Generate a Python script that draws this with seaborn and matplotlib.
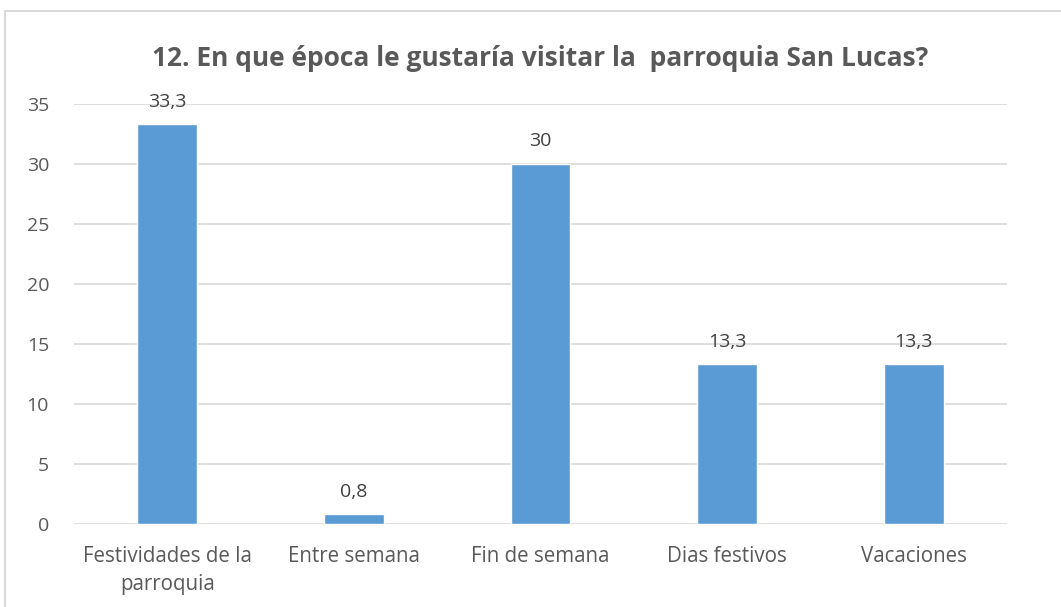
import matplotlib
matplotlib.use("Agg")
import matplotlib.pyplot as plt
import seaborn as sns
import pandas as pd
from matplotlib.patches import Rectangle

categories = ["Festividades de la\nparroquia", "Entre semana", "Fin de semana",
              "Dias festivos", "Vacaciones"]
values = [33.3, 0.8, 30, 13.3, 13.3]
value_labels = ["33,3", "0,8", "30", "13,3", "13,3"]
y_ticks = [0, 5, 10, 15, 20, 25, 30, 35]

title = "12. En que época le gustaría visitar la  parroquia San Lucas?"

sns.set_theme(style="white")
plt.rcParams["font.family"] = ["Open Sans", "DejaVu Sans"]

df = pd.DataFrame({"categoria": categories, "valor": values})

fig = plt.figure(figsize=(10.61, 6.07), dpi=100)
ax = fig.add_axes([74 / 1061, 83 / 607, (1007 - 74) / 1061, (524 - 104) / 607])

sns.barplot(data=df, x="categoria", y="valor", color="#5B9BD5", width=0.32,
            saturation=1, ax=ax, zorder=3)

ax.set_ylim(0, 35)
ax.set_yticks(y_ticks)
ax.set_xlim(-0.5, len(categories) - 0.5)
ax.grid(axis="y", color="#D9D9D9", linewidth=1.2, zorder=0)
ax.grid(axis="x", visible=False)
for s in ax.spines.values():
    s.set_visible(False)
ax.set_xlabel("")
ax.set_ylabel("")
ax.tick_params(axis="y", length=0, pad=18, labelsize=14, labelcolor="#595959")
ax.tick_params(axis="x", length=0, pad=16, labelsize=14.8, labelcolor="#595959")
for lbl in ax.get_xticklabels():
    lbl.set_linespacing(1.45)

for i, (v, t) in enumerate(zip(values, value_labels)):
    ax.annotate(t, (i, v), xytext=(0, 10), textcoords="offset points",
                ha="center", va="bottom", fontsize=14, color="#404040")

fig.text(540 / 1061, 1 - 58 / 607, title, ha="center", va="center",
         fontsize=19, fontweight="bold", color="#595959")

fig.patches.append(Rectangle((5 / 1061, -0.1), 1.2, (607 - 11) / 607 + 0.1,
                             transform=fig.transFigure, fill=False,
                             edgecolor="#D9D9D9", linewidth=1.5))

fig.savefig("out.png", dpi=100)
